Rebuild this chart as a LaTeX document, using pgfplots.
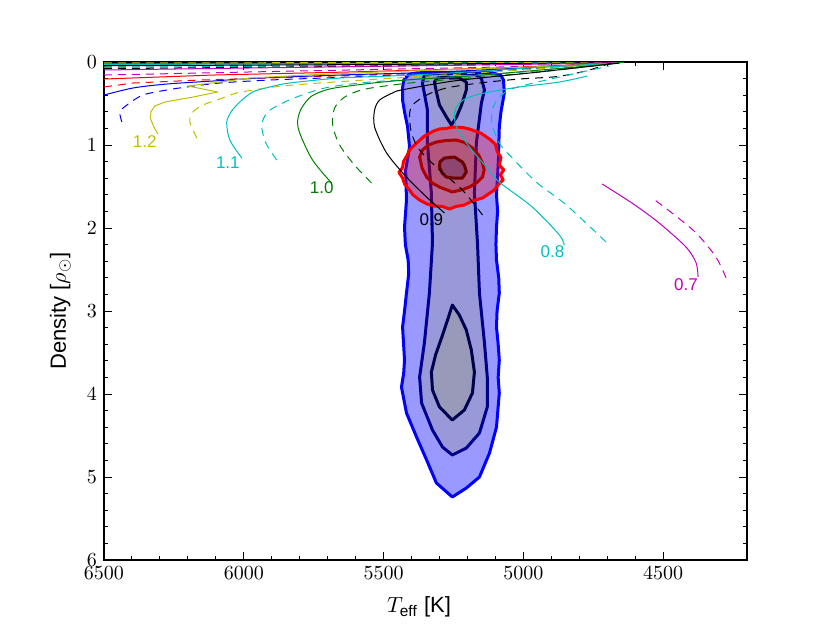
\documentclass[border=0pt]{standalone}
\usepackage{fontspec}
\setmainfont{Liberation Sans}
\usepackage{pgfplots}
\pgfplotsset{compat=1.18}
\definecolor{mb}{rgb}{0,0,1}
\definecolor{mg}{rgb}{0,0.5,0}
\definecolor{mr}{rgb}{1,0,0}
\definecolor{mc}{rgb}{0,0.75,0.75}
\definecolor{mm}{rgb}{0.75,0,0.75}
\definecolor{my}{rgb}{0.75,0.75,0}
\definecolor{fillA}{RGB}{153,153,255}
\definecolor{fillB}{RGB}{153,153,218}
\definecolor{fillC}{RGB}{153,153,185}
\definecolor{navyA}{RGB}{0,0,140}
\definecolor{navyB}{RGB}{0,0,80}
\definecolor{redB}{RGB}{175,0,0}
\definecolor{redC}{RGB}{110,0,0}
\definecolor{redFillC}{RGB}{70,40,90}
\begin{document}
\begin{tikzpicture}
\begin{axis}[scale only axis,
  width=321.5pt, height=249pt,
  x dir=reverse, y dir=reverse,
  xmin=4200, xmax=6500, ymin=0, ymax=6,
  xtick={4500,5000,5500,6000,6500}, ytick={0,1,2,3,4,5,6},
  minor x tick num=4, minor y tick num=4,
  tick align=inside, major tick length=4pt, minor tick length=2pt,
  every tick/.style={black, line width=0.5pt},
  tick label style={font=\fontsize{10}{12}\selectfont},
  xticklabel style={/pgf/number format/1000 sep={}},
  axis line style={line width=0.6pt},
  label style={font=\fontsize{11}{13}\selectfont},
  xlabel={$T_{\rm eff}$ [K]},
  ylabel={Density [$\rho_\odot$]},
  xlabel style={at={(axis description cs:0.49,-0.094)}, anchor=center},
  ylabel style={at={(axis description cs:-0.068,0.5)}, anchor=center},
  no markers,
  every axis plot/.append style={line join=round},
]
\coordinate (LL) at (axis description cs:0,0);
% --- blue posterior contours ---
\addplot[draw=mb, fill=fillA, line width=1.5pt] coordinates {
(5432,0.313)(5428,0.22)(5410,0.15)(5380,0.13)(5300,0.125)(5193,0.125)(5110,0.13)(5080,0.16)(5071,0.217)(5068,0.373)
(5080,0.6)(5086,0.783)(5089,1.181)(5096,1.602)(5092,1.8)(5096,1.988)(5098,2.2)(5096,2.386)(5088,2.6)(5086,2.783)
(5094,3.0)(5096,3.193)(5090,3.4)(5086,3.59)(5090,3.8)(5086,3.988)(5096,4.398)(5121,4.711)(5157,5.0)(5204,5.133)
(5254,5.241)(5311,5.072)(5346,4.795)(5382,4.518)(5418,4.229)(5436,3.916)(5428,3.75)(5425,3.59)(5432,3.193)
(5425,3.0)(5418,2.783)(5410,2.55)(5412,2.386)(5422,2.2)(5425,1.988)(5418,1.663)(5421,1.301)(5407,1.024)
(5414,0.783)(5425,0.6)(5432,0.458)(5432,0.313)} -- cycle;
\addplot[draw=navyA, fill=fillB, line width=1.5pt] coordinates {
(5361,0.253)(5355,0.17)(5320,0.14)(5246,0.135)(5175,0.14)(5150,0.2)(5139,0.337)(5150,0.494)(5168,0.976)(5175,1.578)
(5164,2.181)(5157,2.783)(5139,3.386)(5129,3.795)(5129,4.157)(5157,4.47)(5204,4.651)(5254,4.735)
(5289,4.639)(5325,4.434)(5364,4.108)(5371,3.795)(5354,3.386)(5336,2.783)(5325,2.181)(5329,1.578)
(5343,0.976)(5343,0.578)(5361,0.253)} -- cycle;
\addplot[draw=navyB, fill=fillC, line width=1.5pt] coordinates {
(5318,0.241)(5311,0.361)(5300,0.518)(5275,0.663)(5257,0.759)(5239,0.663)(5221,0.518)(5204,0.337)
(5204,0.241)(5229,0.193)(5275,0.181)(5307,0.193)} -- cycle;
\addplot[draw=navyB, fill=fillC, line width=1.5pt] coordinates {
(5254,2.928)(5271,3.108)(5289,3.289)(5314,3.53)(5329,3.735)(5325,3.952)(5300,4.157)(5254,4.313)
(5211,4.193)(5182,3.988)(5175,3.735)(5186,3.47)(5204,3.229)(5229,3.048)} -- cycle;
% --- red contours ---
\addplot[draw=mr, fill=mr, fill opacity=0.3, line width=1.5pt] coordinates {
(5254,0.783)(5215,0.79)(5193,0.807)(5150,0.86)(5121,0.928)(5100,0.99)(5093,1.084)(5080,1.15)(5086,1.241)
(5070,1.30)(5082,1.36)(5072,1.42)(5090,1.48)(5104,1.542)(5146,1.639)(5180,1.67)(5211,1.723)(5240,1.74)
(5264,1.771)(5290,1.74)(5318,1.735)(5345,1.71)(5371,1.663)(5395,1.60)(5407,1.542)(5425,1.47)(5432,1.398)
(5445,1.33)(5432,1.27)(5429,1.20)(5415,1.12)(5407,1.06)(5380,0.97)(5354,0.892)(5320,0.83)(5300,0.807)(5275,0.80)} -- cycle;
\addplot[draw=redB, fill=redB, fill opacity=0.18, line width=1.5pt] coordinates {
(5371,1.145)(5362,1.28)(5346,1.386)(5325,1.46)(5300,1.506)(5254,1.566)(5220,1.54)(5193,1.506)(5165,1.45)(5146,1.386)
(5140,1.30)(5146,1.217)(5160,1.12)(5182,1.036)(5210,0.97)(5239,0.94)(5275,0.945)(5311,0.964)(5340,1.0)(5361,1.06)} -- cycle;
\addplot[draw=redC, fill=redFillC, fill opacity=0.35, line width=1.5pt] coordinates {
(5300,1.265)(5290,1.34)(5275,1.386)(5245,1.40)(5218,1.398)(5204,1.325)(5210,1.25)(5218,1.205)(5246,1.145)(5282,1.157)(5298,1.2)} -- cycle;
% --- upper bundle of tracks (higher masses) ---
\addplot[color=mg, line width=0.5pt] coordinates {(6500,0.02)(5500,0.014)(4640,0.0)};
\addplot[color=mg, line width=0.5pt, dash pattern=on 4pt off 3pt] coordinates {(6500,0.05)(5500,0.03)(4640,0.003)};
\addplot[color=mc, line width=0.5pt] coordinates {(6500,0.03)(5500,0.02)(4650,0.002)};
\addplot[color=mc, line width=0.5pt, dash pattern=on 4pt off 3pt] coordinates {(6500,0.065)(5500,0.04)(4650,0.004)};
\addplot[color=black, line width=0.5pt] coordinates {(6500,0.045)(5500,0.03)(4650,0.004)};
\addplot[color=black, line width=0.5pt, dash pattern=on 4pt off 3pt] coordinates {(6500,0.08)(5500,0.05)(4650,0.006)};
\addplot[color=my, line width=0.5pt, dash pattern=on 4pt off 3pt] coordinates {(6500,0.01)(5500,0.008)(4650,0.0)};
\addplot[color=mm, line width=0.5pt] coordinates {(6500,0.096)(5979,0.072)(5443,0.048)(4907,0.024)(4657,0.006)};
\addplot[color=mm, line width=0.5pt, dash pattern=on 4pt off 3pt] coordinates {(6500,0.157)(5979,0.12)(5443,0.084)(4907,0.048)(4657,0.012)};
\addplot[color=mr, line width=0.5pt] coordinates {(6500,0.205)(6111,0.157)(5621,0.12)(5086,0.072)(4657,0.012)};
\addplot[color=mr, line width=0.5pt, dash pattern=on 4pt off 3pt] coordinates {(6500,0.301)(6396,0.253)(6157,0.217)(5800,0.181)(5371,0.133)(4943,0.072)(4657,0.012)};
% --- blue (1.3) ---
\addplot[color=mb, line width=0.5pt, smooth] coordinates {(6500,0.398)(6396,0.313)(6275,0.265)(6111,0.229)(5943,0.193)(5657,0.157)(5300,0.12)(4943,0.06)(4657,0.012)};
\addplot[color=mb, line width=0.5pt, dash pattern=on 4pt off 3pt, smooth] coordinates {(6436,0.723)(6443,0.602)(6418,0.518)(6361,0.398)(6275,0.337)(6204,0.301)(6086,0.253)(5907,0.217)(5621,0.181)(5264,0.133)(4907,0.072)(4657,0.012)};
% --- 1.2 yellow ---
\addplot[color=my, line width=0.5pt] coordinates {(6307,0.867)(6322,0.78)(6334,0.68)(6332,0.6)(6318,0.53)(6282,0.482)(6182,0.422)(6093,0.361)(6200,0.289)(6086,0.241)(5979,0.193)(5775,0.157)(5514,0.12)(5193,0.084)(4871,0.048)(4657,0.012)};
\addplot[color=my, line width=0.5pt, dash pattern=on 4pt off 3pt, smooth] coordinates {(6168,0.916)(6193,0.723)(6186,0.614)(6146,0.518)(6086,0.446)(6025,0.373)(5943,0.325)(5861,0.289)(5729,0.253)(5514,0.205)(5229,0.145)(4907,0.072)(4657,0.012)};
% --- 1.1 cyan ---
\addplot[color=mc, line width=0.5pt, smooth] coordinates {(6007,1.157)(6050,0.94)(6061,0.723)(6043,0.59)(6014,0.482)(5968,0.361)(5907,0.301)(5836,0.253)(5657,0.193)(5479,0.169)(5264,0.133)(4979,0.072)(4657,0.012)};
\addplot[color=mc, line width=0.5pt, dash pattern=on 4pt off 3pt, smooth] coordinates {(5882,1.181)(5921,0.976)(5936,0.759)(5914,0.602)(5861,0.494)(5782,0.386)(5693,0.301)(5550,0.241)(5371,0.205)(5157,0.157)(4907,0.096)(4657,0.012)};
% --- 1.0 green ---
\addplot[color=mg, line width=0.5pt, smooth] coordinates {(5686,1.458)(5754,1.181)(5800,0.855)(5807,0.699)(5793,0.554)(5757,0.41)(5693,0.325)(5596,0.277)(5504,0.241)(5371,0.205)(5193,0.169)(4979,0.108)(4729,0.036)(4640,0.0)};
\addplot[color=mg, line width=0.5pt, dash pattern=on 4pt off 3pt, smooth] coordinates {(5543,1.458)(5604,1.241)(5657,1.0)(5682,0.759)(5675,0.554)(5639,0.422)(5579,0.337)(5496,0.289)(5371,0.241)(5193,0.193)(4943,0.12)(4693,0.024)};
% --- 0.9 black ---
\addplot[color=black, line width=0.5pt, smooth] coordinates {(5282,1.819)(5346,1.627)(5418,1.386)(5489,1.096)(5532,0.783)(5532,0.578)(5514,0.458)(5468,0.373)(5436,0.337)(5275,0.241)(5157,0.193)(4979,0.133)(4718,0.036)(4657,0.012)};
\addplot[color=black, line width=0.5pt, dash pattern=on 4pt off 3pt, smooth] coordinates {(5146,1.843)(5218,1.542)(5300,1.301)(5371,1.06)(5400,0.855)(5407,0.639)(5396,0.518)(5346,0.398)(5275,0.313)(5157,0.253)(5014,0.205)(4896,0.181)(4825,0.145)(4764,0.096)(4718,0.048)(4686,0.012)};
% --- 0.8 cyan ---
\addplot[color=mc, line width=0.5pt, smooth] coordinates {(4854,2.205)(4871,2.084)(4968,1.747)(5086,1.446)(5132,1.265)(5193,1.024)(5239,0.783)(5246,0.614)(5229,0.494)(5193,0.422)(5121,0.361)(5014,0.301)(4871,0.241)(4771,0.169)};
\addplot[color=mc, line width=0.5pt, dash pattern=on 4pt off 3pt, smooth] coordinates {(4704,2.169)(4846,1.723)(4954,1.446)(5050,1.12)(5086,0.976)(5111,0.759)(5111,0.578)(5086,0.422)(5032,0.313)(4871,0.181)(4693,0.048)};
% --- 0.7 magenta ---
\addplot[color=mm, line width=0.5pt, smooth] coordinates {(4375,2.59)(4382,2.42)(4418,2.23)(4514,1.94)(4611,1.70)(4718,1.47)};
\addplot[color=mm, line width=0.5pt, dash pattern=on 4pt off 3pt, smooth] coordinates {(4275,2.60)(4311,2.35)(4382,2.06)(4468,1.82)(4543,1.63)};
% --- labels ---
\node[my, font=\fontsize{8.5}{10}\selectfont] at (axis cs:6354,0.964) {1.2};
\node[mc, font=\fontsize{8.5}{10}\selectfont] at (axis cs:6057,1.217) {1.1};
\node[mg, font=\fontsize{8.5}{10}\selectfont] at (axis cs:5721,1.518) {1.0};
\node[black, font=\fontsize{8.5}{10}\selectfont] at (axis cs:5329,1.904) {0.9};
\node[mc, font=\fontsize{8.5}{10}\selectfont] at (axis cs:4896,2.289) {0.8};
\node[mm, font=\fontsize{8.5}{10}\selectfont] at (axis cs:4418,2.687) {0.7};
\end{axis}
\path (LL) ++(-52pt,-31.5pt) coordinate (BA) ++(415pt,311.5pt) coordinate (BB);
\pgfresetboundingbox
\useasboundingbox (BA) rectangle (BB);
\end{tikzpicture}
\end{document}
